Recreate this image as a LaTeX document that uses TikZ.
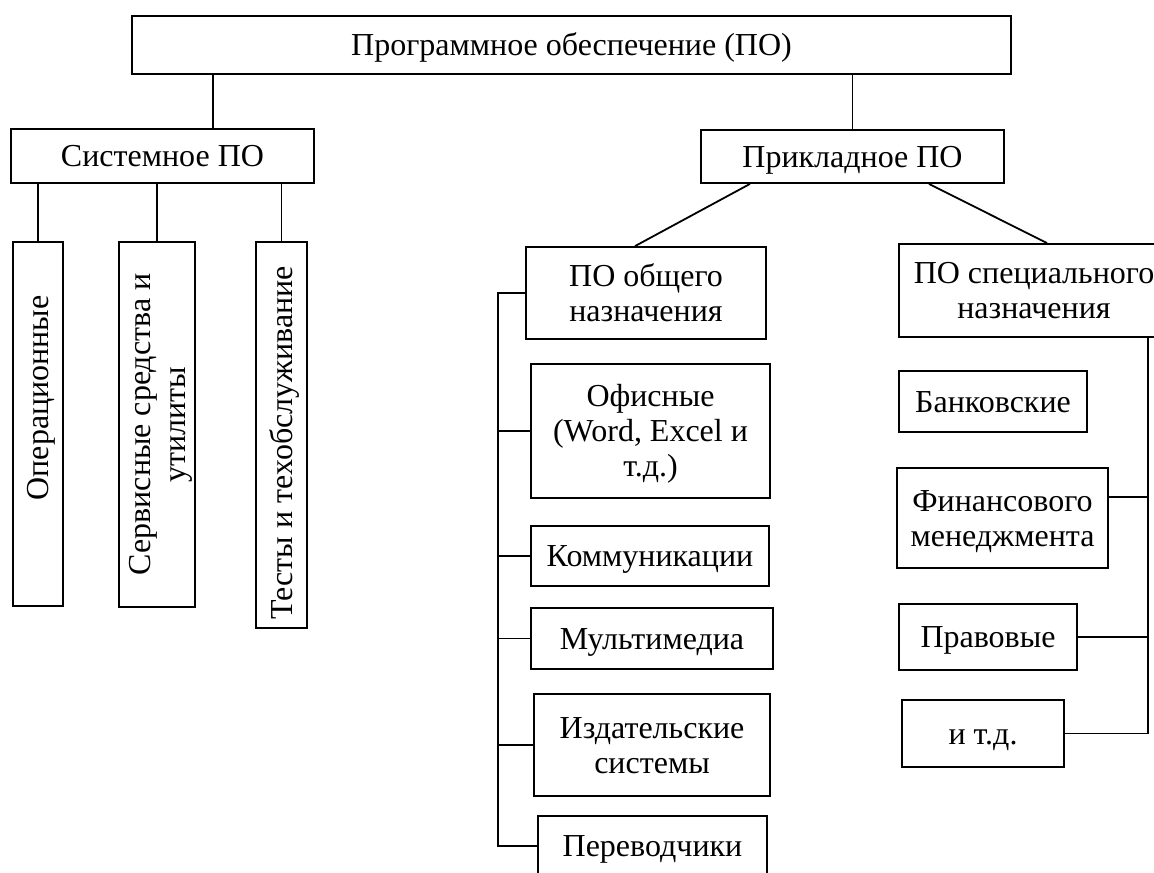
\documentclass[tikz,border=0pt]{standalone}
\usepackage{fontspec}
\setmainfont{Liberation Serif}

\begin{document}
\begin{tikzpicture}[x=0.5pt,y=-0.5pt,line width=0.9pt,
  box/.style={draw,inner sep=0pt,align=center,font=\fontsize{16}{17.5}\selectfont},
  one/.style={text height=12pt,text depth=1.4pt},
  two/.style={text height=29.5pt,text depth=1.4pt},
  three/.style={text height=47pt,text depth=1.4pt}]
\useasboundingbox (0,0) rectangle (1154,872);
\clip (0,0) rectangle (1154,872);
% upper levels
\node[box,one,minimum width=879*0.5pt,minimum height=58*0.5pt] (top) at (571.5,45) {Программное обеспечение (ПО)};
\node[box,one,minimum width=303*0.5pt,minimum height=54*0.5pt] (sys) at (162.5,156) {Системное ПО};
\node[box,one,minimum width=303*0.5pt,minimum height=53*0.5pt] (app) at (852.5,156.5) {Прикладное ПО};
\coordinate (sysin) at ([xshift=25.25pt]sys.north);
\draw (sysin) -- (sysin |- top.south);
\draw (app.north) -- (app.north |- top.south);
% system software
\node[box,one,rotate=90,minimum width=364*0.5pt,minimum height=50*0.5pt] (op) at (38,424) {\hspace*{26pt}Операционные};
\node[box,two,rotate=90,minimum width=365*0.5pt,minimum height=76*0.5pt] (serv) at (157,424.5) {Сервисные средства и\\утилиты};
\node[box,one,rotate=90,minimum width=386*0.5pt,minimum height=51*0.5pt] (test) at (281.5,435) {Тесты и техобслуживание\hspace*{8pt}};
\foreach \n in {op,serv,test} \draw (\n.east) -- (\n.east |- sys.south);
% application software
\node[box,two,minimum width=240*0.5pt,minimum height=92*0.5pt] (gen) at (646,293) {ПО общего\\назначения};
\node[box,two,minimum width=270*0.5pt,minimum height=93*0.5pt] (spec) at (1034,290.5) {ПО специального\\назначения};
\draw ([xshift=-51.25pt]app.south) -- ([xshift=-5.5pt]gen.north);
\draw ([xshift=38.25pt]app.south) -- ([xshift=6.5pt]spec.north);
\foreach \n/\s/\x/\y/\w/\h/\lbl in {off/three/650.5/431/239/134/{Офисные\\(Word, Excel и\\т.д.)},
  comm/one/650/556/238/60/Коммуникации, mm/one/652/638.5/242/61/Мультимедиа,
  izd/two/652/745/236/102/{Издательские\\системы}, tr/one/652.5/846/229/60/Переводчики}
  \node[box,\s,minimum width=\w*0.5pt,minimum height=\h*0.5pt] (\n) at (\x,\y) {\lbl};
\coordinate (gbus) at ([xshift=-13.5pt]gen.west);
\draw (gen.west) -- (gbus) |- (tr.west);
\foreach \n in {off,comm,mm,izd} \draw (\n.west) -- (\n.west -| gbus);
\foreach \n/\s/\x/\y/\w/\h/\lbl in {bank/one/993/401.5/188/61/Банковские,
  fin/two/1002.5/518/211/100/{Финансового\\менеджмента},
  law/one/988/637/178/66/Правовые, etc/one/983/733.5/162/67/и т.д.}
  \node[box,\s,minimum width=\w*0.5pt,minimum height=\h*0.5pt] (\n) at (\x,\y) {\lbl};
\coordinate (sbus) at ([xshift=57pt]spec.south);
\coordinate (finc) at ([yshift=10.5pt]fin.east);
\draw (sbus) |- (etc.east);
\draw (finc) -- (finc -| sbus);
\draw (law.east) -- (law.east -| sbus);
\end{tikzpicture}
\end{document}
